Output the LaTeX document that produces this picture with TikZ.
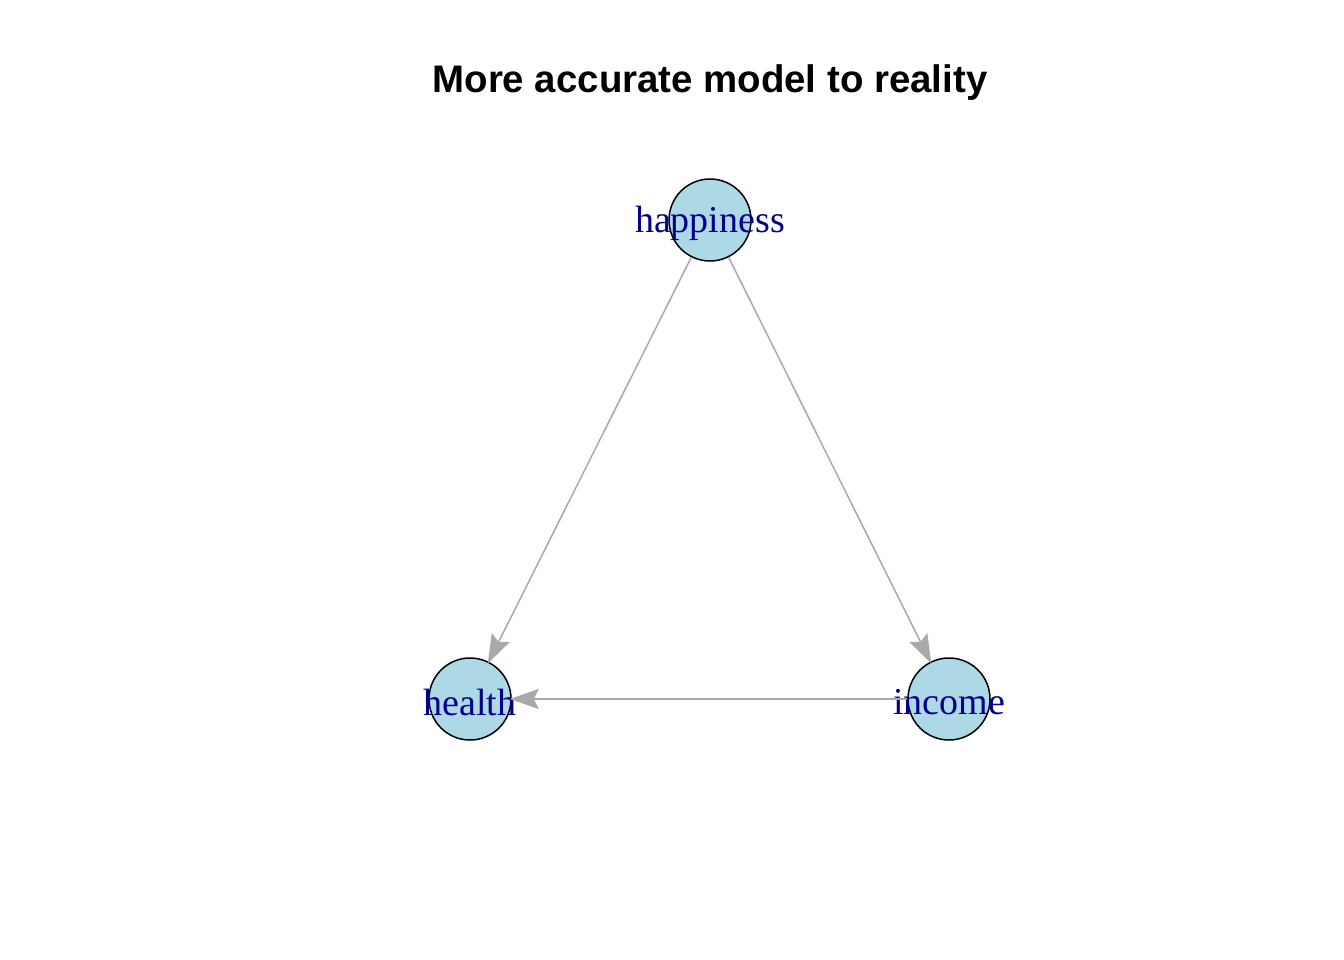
\documentclass[tikz,border=0pt]{standalone}
\usepackage{fontspec}
\setmainfont{Liberation Serif}
\newfontfamily\titlefont{Liberation Sans}
\usetikzlibrary{
  arrows.meta,
  positioning,
  shapes,
}
\definecolor{nodeblue}{RGB}{173, 216, 230}
\definecolor{labelblue}{RGB}{0, 0, 139}
\definecolor{edgegray}{RGB}{169, 169, 169}
\tikzstyle{vertex} = [
  circle,
  draw=black,
  line width=1.5pt,
  fill=nodeblue,
  minimum size=82pt,
  inner sep=0pt,
]
\tikzstyle{vlabel} = [
  font=\fontsize{38}{40}\selectfont,
  text=labelblue,
  inner sep=0pt,
  yshift=-3pt,
]
\tikzstyle{arrow} = [
  -{Stealth[length=29pt,width=20pt,inset=5pt]},
  line width=1.5pt,
  edgegray,
  shorten >=-2pt,
]
\begin{document}
\begin{tikzpicture}[x=1pt,y=-1pt]
      \useasboundingbox (0,0) rectangle (1344,960);

			\node[font=\titlefont\bfseries\fontsize{38.4}{40}\selectfont] (title) at (710,83) {More accurate model to reality};

			\node[vertex,label={[vlabel]center:happiness}] (happiness) at (710,220) {};
			\node[vertex,label={[vlabel]center:health}] (health) at (470,699) {};
			\node[vertex,label={[vlabel]center:income}] (income) [right of=health,node distance=479pt] {};

			\draw[arrow] (happiness) -- (health);
			\draw[arrow] (happiness) -- (income);
			\draw[arrow] (income) -- (health);
      \end{tikzpicture}
\end{document}
